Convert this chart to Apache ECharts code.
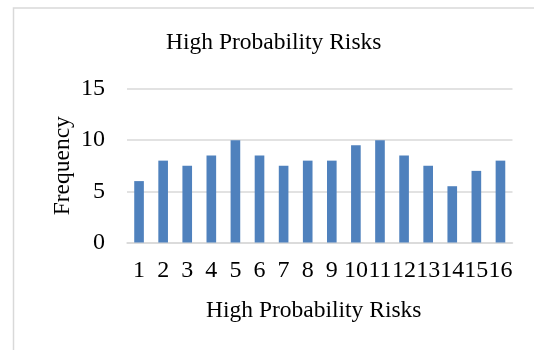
<!DOCTYPE html>
<html>
<head>
<meta charset="utf-8">
<script src="https://cdn.jsdelivr.net/npm/echarts@6/dist/echarts.min.js"></script>
<style>
  html, body { margin: 0; padding: 0; background: #ffffff; }
  #chart { width: 534px; height: 350px; }
</style>
</head>
<body>
<div id="chart"></div>
<script>
// Risk numbers along the x axis
const categories = ['1', '2', '3', '4', '5', '6', '7', '8', '9', '10', '11', '12', '13', '14', '15', '16'];
// How often each high-probability risk was reported
const frequency = [6, 8, 7.5, 8.5, 10, 8.5, 7.5, 8, 8, 9.5, 10, 8.5, 7.5, 5.5, 7, 8];
// Value-axis ticks
const yTicks = [0, 5, 10, 15];

const FONT = '"Liberation Serif", "Times New Roman", serif';
const chart = echarts.init(document.getElementById('chart'), null, { renderer: 'canvas' });

chart.setOption({
  animation: false,
  backgroundColor: '#ffffff',
  graphic: [{
    type: 'rect',
    shape: { x: 13.5, y: 8, width: 540, height: 400 },
    style: { fill: 'none', stroke: '#d9d9d9', lineWidth: 1.5 },
    silent: true
  }],
  title: {
    text: 'High Probability Risks',
    left: 161,
    top: 26,
    textStyle: { fontFamily: FONT, fontSize: 23.5, fontWeight: 'normal', color: '#000000' }
  },
  grid: { left: 127, right: 21.5, top: 89, bottom: 107.5, containLabel: false },
  xAxis: {
    type: 'category',
    data: categories,
    name: 'High Probability Risks',
    nameLocation: 'middle',
    nameGap: 56,
    nameMoveOverlap: false,
    nameTextStyle: { fontFamily: FONT, fontSize: 23.5, color: '#000000', padding: [0, 12, 0, 0] },
    axisLine: { show: true, lineStyle: { color: '#d9d9d9', width: 1.5 } },
    axisTick: { show: false },
    axisLabel: { fontFamily: FONT, fontSize: 24, color: '#000000', margin: 16, interval: 0 }
  },
  yAxis: {
    type: 'value',
    min: yTicks[0],
    max: yTicks[yTicks.length - 1],
    interval: yTicks[1] - yTicks[0],
    name: 'Frequency',
    nameLocation: 'middle',
    nameGap: 52,
    nameMoveOverlap: false,
    nameTextStyle: { fontFamily: FONT, fontSize: 23.5, color: '#000000' },
    axisLine: { show: false },
    axisTick: { show: false },
    splitLine: { lineStyle: { color: '#d9d9d9', width: 1.5 } },
    axisLabel: { fontFamily: FONT, fontSize: 24, color: '#000000', margin: 22 }
  },
  series: [{
    type: 'bar',
    data: frequency,
    barWidth: '40%',
    itemStyle: { color: '#4f81bd' }
  }]
});
</script>
</body>
</html>
